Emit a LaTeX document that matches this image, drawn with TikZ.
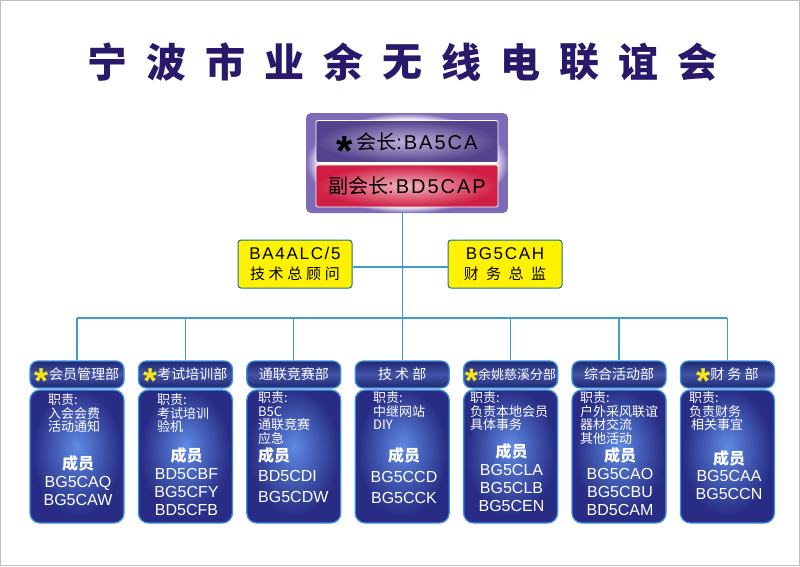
\documentclass[tikz,border=0pt]{standalone}
\usepackage{fontspec}
\setmainfont{Liberation Sans}
\newfontfamily\cjk{Noto Sans CJK SC}
\newfontfamily\cjksp{Noto Sans CJK SC}[LetterSpace=25]
\newfontfamily\latsp{Liberation Sans}[LetterSpace=10]
\usetikzlibrary{positioning}

\definecolor{titleblue}{HTML}{28196B}
\definecolor{linkblue}{HTML}{3E9CCB}
\definecolor{advyellow}{HTML}{FFF200}
\definecolor{advborder}{HTML}{1E6F8C}
\definecolor{navy}{HTML}{1F2970}
\definecolor{navymid}{HTML}{4453A8}
\definecolor{bodyin}{HTML}{5F8AE4}
\definecolor{bodyout}{HTML}{282C84}
\definecolor{edgeblue}{HTML}{3C90E0}
\definecolor{purpD}{HTML}{54428C}
\definecolor{purpL}{HTML}{BDB0DA}
\definecolor{redD}{HTML}{D01E44}
\definecolor{redL}{HTML}{F4B4BF}
\definecolor{glowpurple}{HTML}{7C6CB8}
\definecolor{staryellow}{HTML}{F5E614}

\pgfdeclareradialshading{glowshade}{\pgfpoint{0bp}{0bp}}{color(0bp)=(white); color(21.5bp)=(white); color(25bp)=(glowpurple); color(40bp)=(glowpurple)}
\pgfdeclareradialshading{presshade}{\pgfpoint{0bp}{0bp}}{color(0bp)=(purpL); color(25bp)=(purpD); color(40bp)=(purpD)}
\pgfdeclareradialshading{viceshade}{\pgfpoint{0bp}{0bp}}{color(0bp)=(redL); color(25bp)=(redD); color(40bp)=(redD)}
\pgfdeclareradialshading{bodyshade}{\pgfpoint{0bp}{4bp}}{color(0bp)=(bodyin); color(24bp)=(bodyout); color(40bp)=(bodyout)}

% asterisk mark: size, colour
\newcommand{\starmark}[2]{\smash{\textcolor{#2}{\rmfamily\bfseries\fontsize{#1}{#1}\selectfont\raisebox{-0.38em}{*}}}}

\tikzset{
  titlechar/.style={text=titleblue, font=\cjk\bfseries\fontsize{40}{40}\selectfont, inner sep=0pt},
  link/.style={draw=linkblue, line width=1.2pt},
  glowbox/.style={shade, shading=glowshade, rounded corners=5pt, minimum width=202pt, minimum height=100pt, inner sep=0pt},
  presbox/.style={draw=white, line width=0.8pt, rounded corners=2pt, minimum width=182pt, minimum height=42pt, inner sep=0pt, font=\latsp\fontsize{20}{24}\selectfont},
  advbox/.style={draw=advborder, fill=advyellow, line width=1pt, rounded corners=3pt, minimum width=114pt, minimum height=48pt, inner sep=0pt, align=center, font=\fontsize{17}{20}\selectfont},
  depthead/.style={draw=edgeblue, line width=1.3pt, rounded corners=8pt, top color=navy, bottom color=navy, middle color=navymid, minimum width=94pt, minimum height=27pt, inner sep=0pt, text=white, font=\cjk\fontsize{14}{14}\selectfont},
  deptbody/.style={draw=edgeblue, line width=1.3pt, rounded corners=10pt, shade, shading=bodyshade, minimum width=94pt, minimum height=133pt, inner sep=0pt},
  duty/.style={anchor=base west, align=left, text=white, inner sep=0pt, font=\cjk\fontsize{13}{13.5}\selectfont},
  members/.style={anchor=base, align=center, text=white, inner sep=0pt, font=\fontsize{16}{18}\selectfont}
}

\begin{document}
\begin{tikzpicture}[x=1pt, y=-1pt]
  \useasboundingbox (0,0) rectangle (800,566);
  \draw[black!25] (0.5,0.5) rectangle (799.5,565.5);

  % title
  \foreach \c [count=\i] in {宁,波,市,业,余,无,线,电,联,谊,会}
    \node[titlechar] (t\i) at ({107+59*(\i-1)},62) {\c};

  % president and vice president
  \node[glowbox] (glow) at (407,163) {};
  \node[presbox, shade, shading=presshade] (pres) at (407,141.5) {\starmark{42}{black}\,{\cjk 会长}:BA5CA};
  \node[presbox, shade, shading=viceshade] (vice) at (407,186) {{\cjk 副会长}:BD5CAP};

  % advisers
  \node[advbox] (tech) at (295,264) {{\latsp BA4ALC/5}\\{\cjksp\fontsize{15}{20}\selectfont 技术总顾问}};
  \node[advbox] (fin) at (505,264) {{\latsp BG5CAH}\\{\cjksp\fontsize{15}{20}\selectfont\addfontfeature{LetterSpace=50}财务总监}};

  % departments
  \foreach \i/\x in {1/77,2/185.4,3/293.8,4/402.2,5/510.6,6/619,7/727.4}
    \node[deptbody] (b\i) at (\x,456.5) {};
  \node[depthead] (h1) at (77,374.5) {\starmark{36}{staryellow}会员管理部};
  \node[depthead] (h2) at (185.4,374.5) {\starmark{36}{staryellow}考试培训部};
  \node[depthead] (h3) at (293.8,374.5) {通联竞赛部};
  \node[depthead] (h4) at (402.2,374.5) {技 术 部};
  \node[depthead, font=\cjk\fontsize{13}{13}\selectfont] (h5) at (510.6,374.5) {\starmark{34}{staryellow}余姚慈溪分部};
  \node[depthead] (h6) at (619,374.5) {综合活动部};
  \node[depthead] (h7) at (727.4,374.5) {\starmark{36}{staryellow}财 务 部};

  % connectors
  \coordinate (bus) at (0,318);
  \draw[link] (h4.north) -- (h4.north |- glow.south);
  \draw[link] ([yshift=-3pt]tech.east) -- ([yshift=-3pt]fin.west);
  \draw[link] (h1.north |- bus) -- (h7.north |- bus);
  \foreach \i in {1,...,7}
    \draw[link] (h\i.north) -- (h\i.north |- bus);

  % duties (placed by the baseline of the last line)
  \node[duty] (d1) at (48,431.5) {职责:\\入会会费\\活动通知};
  \node[duty] (d2) at (157,431.5) {职责:\\考试培训\\验机};
  \node[duty] (d3) at (258,443) {职责:\\B5C\\通联竞赛\\应急};
  \node[duty] (d4) at (373,429.5) {职责:\\中继网站\\DIY};
  \node[duty] (d5) at (470,429.5) {职责:\\负责本地会员\\具体事务};
  \node[duty] (d6) at (580,443) {职责:\\户外采风联谊\\器材交流\\其他活动};
  \node[duty] (d7) at (689,429.5) {职责:\\负责财务\\\hspace{2pt}相关事宜};

  % members
  \node[members] (m1) at (78,505) {{\cjk\bfseries 成员}\\BG5CAQ\\BG5CAW};
  \node[members] (m2) at (186.5,515) {{\cjk\bfseries 成员}\\BD5CBF\\BG5CFY\\BD5CFB};
  \node[members, anchor=base west, align=left, font=\fontsize{16}{20.5}\selectfont] (m3) at (258,502) {{\cjk\bfseries 成员}\\BD5CDI\\BG5CDW};
  \node[members, font=\fontsize{16}{21}\selectfont] (m4) at (404,503) {{\cjk\bfseries 成员}\\BG5CCD\\BG5CCK};
  \node[members, font=\fontsize{16}{17.7}\selectfont] (m5) at (511.5,511) {{\cjk\bfseries 成员}\\BG5CLA\\BG5CLB\\BG5CEN};
  \node[members] (m6) at (620,515) {{\cjk\bfseries 成员}\\BG5CAO\\BG5CBU\\BD5CAM};
  \node[members, font=\fontsize{16}{17.5}\selectfont] (m7) at (729,499) {{\cjk\bfseries 成员}\\BG5CAA\\BG5CCN};
\end{tikzpicture}
\end{document}
